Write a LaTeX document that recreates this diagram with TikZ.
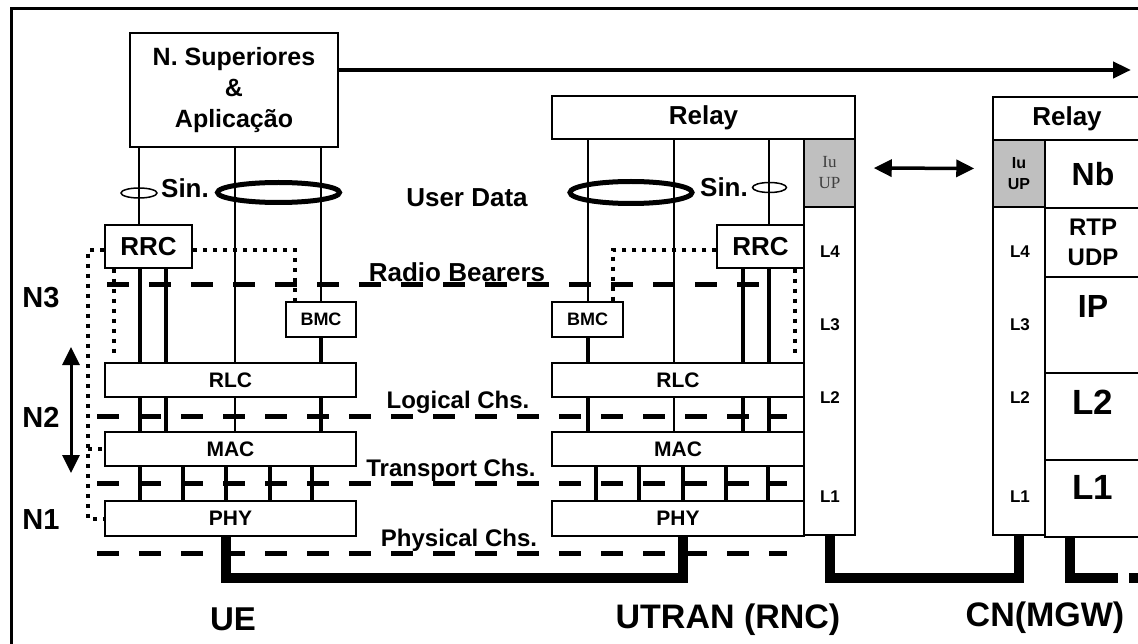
\documentclass[tikz,border=0pt]{standalone}
\usepackage{fontspec}
\setmainfont{Liberation Sans}
\newfontfamily\iufont{Liberation Serif}
\usetikzlibrary{arrows.meta}

\newcommand\fs[2]{\fontsize{#1}{#2}\selectfont\bfseries}

\tikzset{
  box/.style={draw, line width=1.5pt, fill=white, inner sep=0pt, align=center},
  iubox/.style={box, fill=black!25},
  thinln/.style={line width=1.5pt},
  thickln/.style={line width=4pt},
  chline/.style={line width=5pt, dash pattern=on 22pt off 20pt},
  ctrl/.style={line width=4pt, dash pattern=on 4pt off 6pt},
  link/.style={line width=10pt},
  htip/.tip={Triangle[length=18pt,width=17pt]}
}

\begin{document}
\begin{tikzpicture}[x=1pt,y=-1pt]
\useasboundingbox (0,0) rectangle (1138,644);
\clip (0,0) rectangle (1138,644);
\draw[line width=3pt] (11,660) -- (11,9) -- (1150,9);

% UE
\node[box, minimum width=208pt, minimum height=114pt, font=\fs{25}{31}] (sup) at (234,90) {N. Superiores\\\&\\Aplicação};
\node[box, minimum width=87pt, minimum height=43pt, font=\fs{26}{28}] (rrcU) at (148.5,246.5) {RRC};
\node[box, minimum width=70pt, minimum height=35pt, font=\fs{18}{20}] (bmcU) at (321,319.5) {BMC};
\node[box, minimum width=251pt, minimum height=34pt, font=\fs{21}{23}] (rlcU) at (230.5,380) {RLC};
\node[box, minimum width=251pt, minimum height=34pt, font=\fs{21}{23}] (macU) at (230.5,449) {MAC};
\node[box, minimum width=251pt, minimum height=35pt, font=\fs{21}{23}] (phyU) at (230.5,518.5) {PHY};

% UTRAN
\node[box, minimum width=303pt, minimum height=43pt, font=\fs{26}{28}] (relayR) at (703.5,117.5) {Relay};
\node[box, minimum width=87pt, minimum height=43pt, font=\fs{26}{28}] (rrcR) at (760.5,246.5) {RRC};
\node[box, minimum width=71pt, minimum height=35pt, font=\fs{18}{20}] (bmcR) at (587.5,319.5) {BMC};
\node[box, minimum width=252pt, minimum height=34pt, font=\fs{21}{23}] (rlcR) at (678,380) {RLC};
\node[box, minimum width=252pt, minimum height=34pt, font=\fs{21}{23}] (macR) at (678,449) {MAC};
\node[box, minimum width=252pt, minimum height=35pt, font=\fs{21}{23}] (phyR) at (678,518.5) {PHY};
\node[iubox, minimum width=51pt, minimum height=68pt, text=black!75,
  font=\iufont\fontsize{17}{21}\selectfont] (iuR) at (829.5,173) {Iu\\UP};
\node[box, minimum width=51pt, minimum height=328pt] (colR) at (829.5,371) {};

% CN
\node[box, minimum width=148pt, minimum height=43pt, font=\fs{26}{28}] (relayC) at (1067,118.5) {Relay};
\node[iubox, minimum width=52pt, minimum height=67pt, font=\fs{16}{21}] (iuC) at (1019,173.5) {Iu\\UP};
\node[box, minimum width=52pt, minimum height=328pt] (colC) at (1019,371) {};
\node[box, minimum width=96pt, minimum height=68pt, font=\fs{32}{34}] (nb) at (1093,174) {Nb};
\node[box, minimum width=96pt, minimum height=69pt, font=\fs{24}{30}] (rtp) at (1093,242.5) {RTP\\UDP};
\node[box, minimum width=96pt, minimum height=96pt] (ipC) at (1093,325) {};
\node[box, minimum width=96pt, minimum height=87pt] (l2C) at (1093,416.5) {};
\node[box, minimum width=96pt, minimum height=77pt] (l1C) at (1093,498.5) {};
\node[font=\fs{32}{34}] (ipT) at (1093,306) {IP};
\node[font=\fs{35}{37}] (l2T) at (1093,402) {L2};
\node[font=\fs{35}{37}] (l1T) at (1093,487) {L1};

\foreach \n/\y in {4/252,3/325,2/398,1/497}{
  \node[font=\fs{17}{19}] (lr\n) at (830,\y) {L\n};
  \node[font=\fs{17}{19}] (lc\n) at (1020,\y) {L\n};
}

% layer boundaries
\draw[chline] (107,285) -- (760,285);
\foreach \y in {416,483,553}
  \draw[chline] (97,\y) -- (787,\y);
\node[font=\fs{26}{28}, anchor=base] (rb) at (457,282) {Radio Bearers};
\node[font=\fs{24}{26}, anchor=base] (lch) at (458,408) {Logical Chs.};
\node[font=\fs{24}{26}, anchor=base] (tch) at (451,476) {Transport Chs.};
\node[font=\fs{24}{26}, anchor=base] (pch) at (459,546) {Physical Chs.};

% UE channels
\path (139,0) coordinate (uA) (235,0) coordinate (uC) (321,0) coordinate (uD);
\draw[thinln] (sup.south -| uA) -- (rrcU.north -| uA);
\draw[thinln] (sup.south -| uC) -- (rlcU.north -| uC);
\draw[thinln] (sup.south -| uD) -- (bmcU.north);
\draw[thickln] (bmcU.south) -- (rlcU.north -| bmcU.south);
\foreach \x in {140,166}{
  \path (\x,0) coordinate (t);
  \draw[thickln] (rrcU.south -| t) -- (rlcU.north -| t);
}
\foreach \x in {140,166,321}{
  \path (\x,0) coordinate (t);
  \draw[thickln] (rlcU.south -| t) -- (macU.north -| t);
}
\draw[thinln] (rlcU.south -| uC) -- (macU.north -| uC);
\foreach \x in {140,183,226,270,312}{
  \path (\x,0) coordinate (t);
  \draw[thickln] (macU.south -| t) -- (phyU.north -| t);
}

% UTRAN channels
\path (588,0) coordinate (rA) (674,0) coordinate (rB) (769,0) coordinate (rC);
\draw[thinln] (relayR.south -| rA) -- (bmcR.north -| rA);
\draw[thinln] (relayR.south -| rB) -- (rlcR.north -| rB);
\draw[thinln] (relayR.south -| rC) -- (rrcR.north -| rC);
\draw[thickln] (bmcR.south -| rA) -- (rlcR.north -| rA);
\foreach \x in {743,769}{
  \path (\x,0) coordinate (t);
  \draw[thickln] (rrcR.south -| t) -- (rlcR.north -| t);
}
\foreach \x in {588,743,769}{
  \path (\x,0) coordinate (t);
  \draw[thickln] (rlcR.south -| t) -- (macR.north -| t);
}
\draw[thinln] (rlcR.south -| rB) -- (macR.north -| rB);
\foreach \x in {596,639,683,726,768}{
  \path (\x,0) coordinate (t);
  \draw[thickln] (macR.south -| t) -- (phyR.north -| t);
}

% signalling / user data bundles
\draw[thinln] (139,193) ellipse [x radius=18pt, y radius=5pt];
\draw[line width=5pt] (278.5,192.5) ellipse [x radius=61pt, y radius=10pt];
\draw[line width=5pt] (631,192.5) ellipse [x radius=61pt, y radius=11pt];
\draw[thinln] (769.5,187.5) ellipse [x radius=17pt, y radius=5pt];
\node[font=\fs{26}{28}] (sinU) at (185,188) {Sin.};
\node[font=\fs{26}{28}] (sinR) at (724,187) {Sin.};
\node[font=\fs{26}{28}, anchor=base] (udata) at (467,207) {User Data};

% control (dotted)
\path (88,250) coordinate (bendU) (295,250) coordinate (bendV) (114,357) coordinate (dotU)
  (613,250) coordinate (bendW) (795,357) coordinate (dotR);
\draw[ctrl] (rrcU.west |- bendU) -- (bendU) |- (phyU.west);
\draw[ctrl] (bendU |- macU.west) -- (macU.west);
\draw[ctrl] (rrcU.east |- bendV) -- (bendV) -- (bendV |- bmcU.north);
\draw[ctrl] (rrcU.south -| dotU) -- (dotU);
\draw[ctrl] (rrcR.west |- bendW) -- (bendW) -- (bendW |- bmcR.north);
\draw[ctrl] (rrcR.south -| dotR) -- (dotR);

% physical links
\path (226,578) coordinate (lk1) (683,578) coordinate (lk2) (829.5,578) coordinate (lk3)
  (1019,578) coordinate (lk4) (1070,578) coordinate (lk5) (1118,578) coordinate (lk6)
  (1129,578) coordinate (lk7) (1150,578) coordinate (lk8);
\draw[link] (phyU.south -| lk1) -- (lk1) -- (lk2) -- (phyR.south -| lk2);
\draw[link] (colR.south) -- (lk3) -- (lk4) -- (colC.south);
\draw[link] (l1C.south -| lk5) -- (lk5) -- (lk6);
\draw[link] (lk7) -- (lk8);

% arrows
\path (1131,70) coordinate (outEnd) (71,347) coordinate (nTop) (71,473) coordinate (nBot);
\draw[line width=4.5pt, -{Triangle[length=18pt,width=16pt]}] (sup.east |- outEnd) -- (outEnd);
\draw[line width=3.5pt, htip-htip, shorten <=18pt, shorten >=18pt]
  ([yshift=5pt]iuR.east) -- ([yshift=5pt]iuC.west);
\draw[line width=3pt, htip-htip] (nTop) -- (nBot);

% levels and entities
\node[font=\fs{29}{31}] (n3) at (41,298) {N3};
\node[font=\fs{29}{31}] (n2) at (41,417) {N2};
\node[font=\fs{29}{31}] (n1) at (41,520) {N1};
\node[font=\fs{33}{35}, anchor=base] (ue) at (233,630) {UE};
\node[font=\fs{34}{36}, anchor=base] (utran) at (728,628) {UTRAN (RNC)};
\node[font=\fs{34}{36}, anchor=base] (cn) at (1045,626) {CN(MGW)};
\end{tikzpicture}
\end{document}
